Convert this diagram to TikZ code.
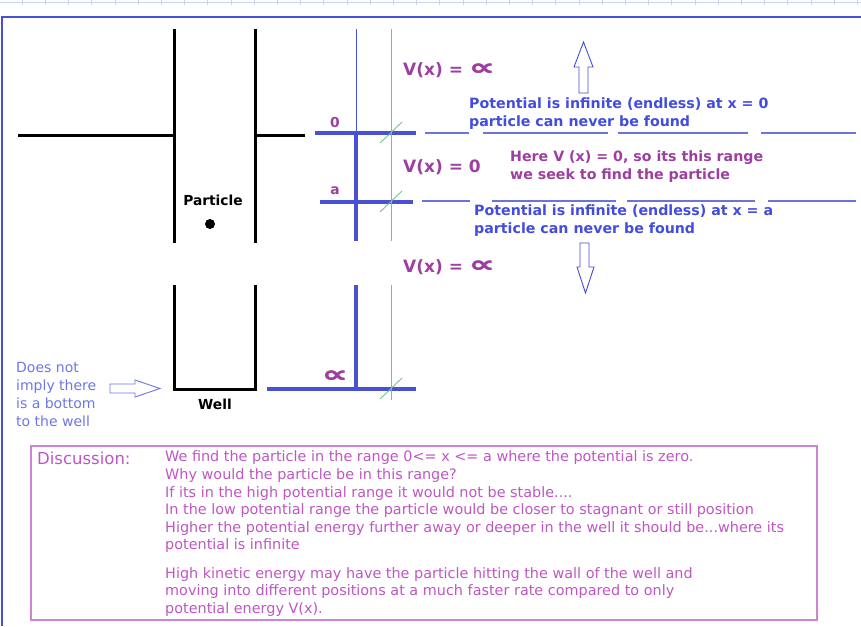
\documentclass[tikz,border=0pt]{standalone}
\usepackage{fontspec}
\setmainfont{DejaVu Sans}
\definecolor{frameblue}{RGB}{72,80,212}
\definecolor{noteblue}{RGB}{66,76,222}
\definecolor{softblue}{RGB}{108,118,230}
\definecolor{potpurple}{RGB}{158,62,160}
\definecolor{discpurple}{RGB}{190,86,196}
\definecolor{boxpurple}{RGB}{204,132,212}
\definecolor{guidegreen}{RGB}{110,200,130}
\definecolor{rulerblue}{RGB}{200,214,240}
\newcommand{\infsign}{\scalebox{2.1}[1.35]{\rlap{∝}\kern0.45pt∝}}

\begin{document}
\begin{tikzpicture}[
  x=1pt,y=-1pt,
  wall/.style={line width=3pt,black},
  level/.style={line width=3.3pt,frameblue},
  thinline/.style={line width=1pt,frameblue},
  guide/.style={line width=0.9pt,guidegreen},
  gap/.style={line width=1.3pt,frameblue!80},
  hollow/.style={draw=noteblue,line width=0.9pt,line join=miter},
  tag/.style={font=\bfseries\fontsize{13.8}{15}\selectfont,inner sep=0pt},
  pot/.style={font=\bfseries\fontsize{17}{19}\selectfont,text=potpurple,anchor=west,inner sep=0pt},
  note/.style={font=\bfseries\fontsize{14.2}{18}\selectfont,anchor=west,align=left,inner sep=0pt},
  disc/.style={font=\fontsize{14.4}{17.6}\selectfont,text=discpurple,anchor=west,align=left,inner sep=0pt}
]
  \useasboundingbox (0,0) rectangle (861,626);
  % ruler strip and frame
  \draw[rulerblue,line width=1pt] (0,2.5) -- (861,2.5);
  \foreach \t in {0,...,36}
    \draw[rulerblue,line width=0.6pt] (22+23.2*\t,0) -- ++(0,5);
  \draw[frameblue,line width=2.6pt] (2,626) -- (2,17) -- (861,17);

  % open well
  \draw[wall] (18,135) -- (174,135);
  \draw[wall] (174,29) -- (174,243);
  \draw[wall] (255,29) -- (255,243);
  \draw[wall] (255,135) -- (305,135);
  \node[tag] (particle) at (213,200) {Particle};
  \node[circle,fill,inner sep=0pt,minimum size=10pt] (dot) at (210,224) {};

  % closed well
  \draw[wall] (174,285) -- (174,389) -- (255,389) -- (255,285);
  \node[tag] (well) at (215,404) {Well};
  \node[font=\fontsize{14}{17.7}\selectfont,text=softblue,align=left,anchor=west,inner sep=0pt]
    (bottom) at (16,394.5) {Does not\\imply there\\is a bottom\\to the well};
  \draw[hollow,draw=softblue] (110,384) -- (135,384) -- (135,380) -- (160,388.5)
    -- (135,397) -- (135,393) -- (110,393) -- cycle;

  % potential axis
  \draw[thinline] (356,29) -- (356,133);
  \draw[level] (356,133) -- (356,241);
  \draw[level] (356,285) -- (356,389);
  \draw[level] (315,133) -- (416,133);
  \draw[level] (320,202) -- (413,202);
  \draw[level] (267,389) -- (416,389);
  \draw[guide] (391,29) -- (391,241);
  \draw[guide] (391,285) -- (391,400);
  \foreach \y in {133,202,389}
    \draw[guide] (391,\y) ++(-11,10) -- ++(22,-21);
  \node[tag,text=potpurple] (zero) at (335,122) {0};
  \node[tag,text=potpurple] (ella) at (335,191) {a};
  \node[pot,anchor=center] (inf) at (335,377) {\infsign};

  % boundary gaps
  \foreach \a/\b in {425/469,483/608,618/748,761/856}
    \draw[gap] (\a,133) -- (\b,133);
  \foreach \a/\b in {422/470,492/616,627/755,768/856}
    \draw[gap] (\a,201) -- (\b,201);

  % potential values
  \node[pot] (vtop) at (403,70) {V(x) = \infsign};
  \node[pot] (vmid) at (403,167) {V(x) = 0};
  \node[pot] (vlow) at (403,267) {V(x) = \infsign};
  \draw[hollow] (579,93) -- (579,67) -- (574,67) -- (583.5,42) -- (593,67)
    -- (588,67) -- (588,93) -- cycle;
  \draw[hollow] (580,243) -- (580,267) -- (577,267) -- (585.5,293) -- (594,267)
    -- (589,267) -- (589,243) -- cycle;

  \node[note,text=noteblue] (wallzero) at (469,114)
    {Potential is infinite (endless) at x = 0\\particle can never be found};
  \node[note,text=potpurple] (range) at (510,167)
    {Here V (x) = 0, so its this range\\we seek to find the particle};
  \node[note,text=noteblue] (walla) at (474,220.5)
    {Potential is infinite (endless) at x = a\\particle can never be found};

  % discussion
  \draw[boxpurple,line width=1.4pt] (31,446) rectangle (817,620);
  \node[disc,font=\fontsize{16.5}{18}\selectfont] (head) at (37,458) {Discussion:};
  \node[disc] (why) at (165,502)
    {We find the particle in the range 0<= x <= a where the potential is zero.\\
     Why would the particle be in this range?\\
     If its in the high potential range it would not be stable....\\
     In the low potential range the particle would be closer to stagnant or still position\\
     Higher the potential energy further away or deeper in the well it should be...where its\\
     potential is infinite};
  \node[disc] (kinetic) at (165,592)
    {High kinetic energy may have the particle hitting the wall of the well and\\
     moving into different positions at a much faster rate compared to only\\
     potential energy V(x).};
\end{tikzpicture}
\end{document}
